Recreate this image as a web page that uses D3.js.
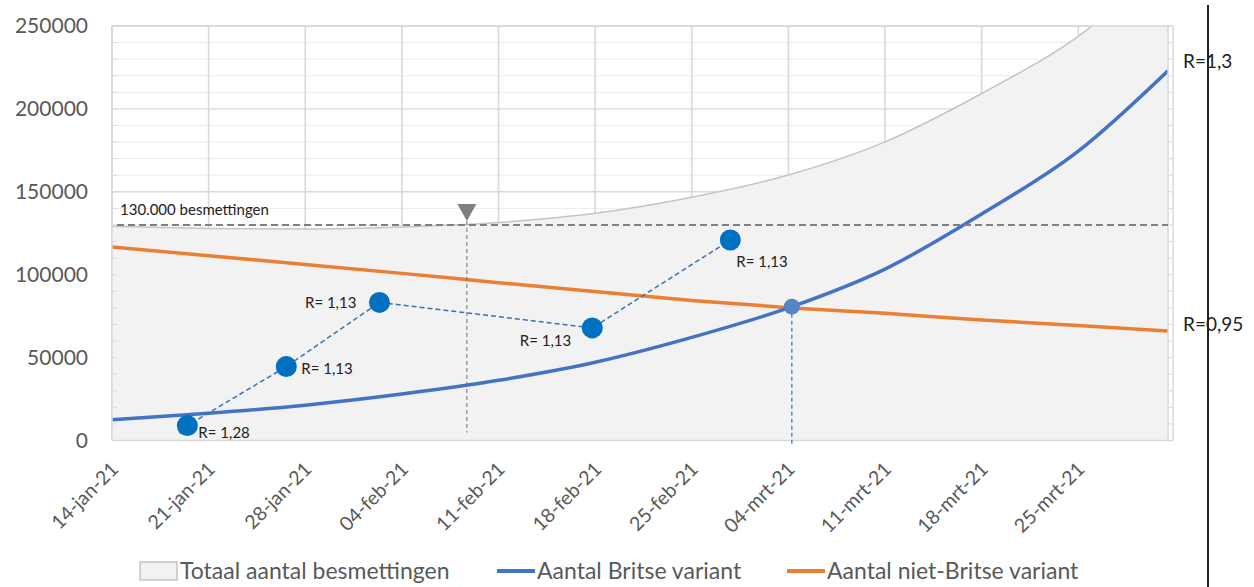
<!DOCTYPE html>
<html><head><meta charset="utf-8">
<script src="https://cdn.jsdelivr.net/npm/d3@7"></script>
<style>body{margin:0;background:#fff;} svg{display:block;font-family:Lato,"Open Sans",sans-serif;}</style>
</head><body><svg id="chart" width="1254" height="587"></svg>
<script>
// ---- data ----
const dates = ["2021-01-14","2021-01-21","2021-01-28","2021-02-04","2021-02-11","2021-02-18","2021-02-25","2021-03-04","2021-03-11","2021-03-18","2021-03-25","2021-03-31T12:00"];
const britse     = [12500, 16400, 21300, 28000, 36300, 47200, 62200, 80000, 103400, 136600, 174500, 223000];
const nietBritse = [116700,111500,106200,100800, 95200, 89800, 84500, 80100, 76700, 72700, 69300, 66000];
const totaal     = [129200,127900,127500,128800,131500,137000,146700,160100,180100,209300,243800,289000];

const xTickDates  = ["2021-01-14","2021-01-21","2021-01-28","2021-02-04","2021-02-11","2021-02-18","2021-02-25","2021-03-04","2021-03-11","2021-03-18","2021-03-25"];
const xTickLabels = ["14-jan-21","21-jan-21","28-jan-21","04-feb-21","11-feb-21","18-feb-21","25-feb-21","04-mrt-21","11-mrt-21","18-mrt-21","25-mrt-21"];
const yTicks = [0, 50000, 100000, 150000, 200000, 250000];

const rDotDates  = ["2021-01-19T11:00","2021-01-26T15:00","2021-02-02T09:00","2021-02-17T19:00","2021-02-27T19:00"];
const rDotValues = [9000, 44600, 83300, 67900, 120900];
const rDotLabels = ["R= 1,28","R= 1,13","R= 1,13","R= 1,13","R= 1,13"];

const crossDate = "2021-03-04T06:00";
const crossValue = 80700;
const thresholdValue = 130000;
const thresholdLabel = "130.000 besmettingen";
const thresholdDate = "2021-02-08T17:00";
const endLabels = ["R=1,3", "R=0,95"];
const legendLabels = ["Totaal aantal besmettingen", "Aantal Britse variant", "Aantal niet-Britse variant"];

// ---- layout ----
const parse = s => new Date(s);
const L = 112, R = 1168, T = 26, B = 440.5;
const svg = d3.select("#chart");
const x = d3.scaleTime().domain([parse("2021-01-14"), parse("2021-03-31T12:00")]).range([L, R]);
const y = d3.scaleLinear().domain([0, 250000]).range([B, T]);

const rows = dates.map((d, i) => ({d: parse(d), b: britse[i], n: nietBritse[i], t: totaal[i]}));

svg.append("rect").attr("width", 1254).attr("height", 587).attr("fill", "#fff");
svg.append("defs").append("clipPath").attr("id", "clip")
  .append("rect").attr("x", L).attr("y", T).attr("width", R - L).attr("height", B - T);

// grid
const grid = svg.append("g");
grid.selectAll("line.minor").data(d3.range(10000, 250001, 10000)).join("line")
  .attr("x1", L).attr("x2", R).attr("y1", d => y(d)).attr("y2", d => y(d))
  .attr("stroke", d => d % 50000 === 0 ? "#d9d9d9" : "#ececec")
  .attr("stroke-width", d => d % 50000 === 0 ? 1.4 : 1);
grid.selectAll("line.v").data(xTickDates).join("line")
  .attr("x1", d => x(parse(d))).attr("x2", d => x(parse(d)))
  .attr("y1", T).attr("y2", B).attr("stroke", "#d9d9d9").attr("stroke-width", 1.6);

// total area
const plot = svg.append("g").attr("clip-path", "url(#clip)");
plot.append("path").datum(rows)
  .attr("d", d3.area().x(d => x(d.d)).y0(y(0)).y1(d => y(d.t)).curve(d3.curveMonotoneX))
  .attr("fill", "#f2f2f2");
plot.append("path").datum(rows)
  .attr("d", d3.line().x(d => x(d.d)).y(d => y(d.t)).curve(d3.curveMonotoneX))
  .attr("fill", "none").attr("stroke", "#c4c4c4").attr("stroke-width", 1.5);

// frame & axis strips
const frame = svg.append("g").attr("stroke", "#d9d9d9").attr("fill", "none");
frame.append("line").attr("x1", L).attr("x2", R + 5).attr("y1", B).attr("y2", B).attr("stroke-width", 1.5);
frame.append("line").attr("x1", L).attr("x2", R + 5).attr("y1", T).attr("y2", T).attr("stroke-width", 1.5);
frame.append("line").attr("x1", L).attr("x2", L).attr("y1", T).attr("y2", B).attr("stroke-width", 1.5);
frame.append("line").attr("x1", R).attr("x2", R).attr("y1", T).attr("y2", B).attr("stroke-width", 1.5);
frame.append("line").attr("x1", R + 5).attr("x2", R + 5).attr("y1", T).attr("y2", B).attr("stroke-width", 1.5);
frame.selectAll("line.tl").data(d3.range(0, 250001, 10000)).join("line")
  .attr("x1", L).attr("x2", L + 5).attr("y1", d => y(d)).attr("y2", d => y(d)).attr("stroke-width", 1);
frame.selectAll("line.tr").data(d3.range(0, 250001, 10000)).join("line")
  .attr("x1", R).attr("x2", R + 5).attr("y1", d => y(d)).attr("y2", d => y(d)).attr("stroke-width", 1);

// threshold line
svg.append("line").attr("x1", L + 5).attr("x2", R).attr("y1", y(thresholdValue)).attr("y2", y(thresholdValue))
  .attr("stroke", "#7f7f7f").attr("stroke-width", 2).attr("stroke-dasharray", "7,4");
svg.append("text").attr("x", L + 8).attr("y", y(thresholdValue) - 10).attr("font-size", 15).attr("fill", "#222")
  .text(thresholdLabel);
const tx = x(parse(thresholdDate));
svg.append("line").attr("x1", tx).attr("x2", tx).attr("y1", y(thresholdValue) - 4).attr("y2", B - 8)
  .attr("stroke", "#6f6f6f").attr("stroke-width", 1).attr("stroke-dasharray", "4,3");
svg.append("path").attr("d", `M${tx - 9.5},${y(thresholdValue) - 21} L${tx + 9.5},${y(thresholdValue) - 21} L${tx},${y(thresholdValue) - 4} Z`)
  .attr("fill", "#7f7f7f");

// series lines
plot.append("path").datum(rows)
  .attr("d", d3.line().x(d => x(d.d)).y(d => y(d.n)).curve(d3.curveMonotoneX))
  .attr("fill", "none").attr("stroke", "#ed7d31").attr("stroke-width", 3.5);
plot.append("path").datum(rows)
  .attr("d", d3.line().x(d => x(d.d)).y(d => y(d.b)).curve(d3.curveMonotoneX))
  .attr("fill", "none").attr("stroke", "#4472c4").attr("stroke-width", 3.5);

// R dots
const dots = rDotDates.map((d, i) => ({x: x(parse(d)), y: y(rDotValues[i]), label: rDotLabels[i]}));
svg.append("path")
  .attr("d", `M${dots[0].x - 8},${dots[0].y + 8}` + dots.map(p => `L${p.x},${p.y}`).join(""))
  .attr("fill", "none").attr("stroke", "#3a73b5").attr("stroke-width", 1.5).attr("stroke-dasharray", "5,3");
svg.selectAll("circle.r").data(dots).join("circle")
  .attr("cx", d => d.x).attr("cy", d => d.y).attr("r", 10.5).attr("fill", "#0070c0");
const labelOffsets = [[11, 12, "start"], [15, 7, "start"], [-23, 6, "end"], [-21, 18, "end"], [6, 27, "start"]];
svg.selectAll("text.r").data(dots).join("text")
  .attr("x", (d, i) => d.x + labelOffsets[i][0]).attr("y", (d, i) => d.y + labelOffsets[i][1])
  .attr("text-anchor", (d, i) => labelOffsets[i][2])
  .attr("font-size", 15).attr("fill", "#222").text(d => d.label);

// crossing point
const cx = x(parse(crossDate)), cy = y(crossValue);
svg.append("line").attr("x1", cx).attr("x2", cx).attr("y1", cy).attr("y2", B + 6)
  .attr("stroke", "#2e75b6").attr("stroke-width", 1.2).attr("stroke-dasharray", "4,3");
svg.append("circle").attr("cx", cx).attr("cy", cy).attr("r", 8).attr("fill", "#5585c5");

// end labels
svg.append("text").attr("x", 1183).attr("y", y(britse[britse.length - 1]) - 3).attr("font-size", 19).attr("fill", "#222").text(endLabels[0]);
svg.append("text").attr("x", 1183).attr("y", y(nietBritse[nietBritse.length - 1])).attr("font-size", 19).attr("fill", "#222").text(endLabels[1]);

// axes
const yAxis = d3.axisLeft(y).tickValues(yTicks).tickSize(0).tickPadding(0).tickFormat(d => String(d));
const gy = svg.append("g").attr("transform", "translate(88,0)").call(yAxis);
gy.select(".domain").remove();
gy.selectAll("text").attr("font-size", 21).attr("fill", "#595959").attr("font-family", "Lato, 'Open Sans', sans-serif");

const xAxis = d3.axisBottom(x).tickValues(xTickDates.map(parse)).tickSize(0)
  .tickFormat((d, i) => xTickLabels[i]);
const gx = svg.append("g").attr("transform", `translate(0,${B})`).call(xAxis);
gx.select(".domain").remove();
gx.selectAll("text").attr("font-size", 19.5).attr("fill", "#595959").attr("font-family", "Lato, 'Open Sans', sans-serif")
  .attr("text-anchor", "end").attr("dy", 0).attr("y", 0)
  .attr("transform", "translate(7,30) rotate(-45)");

// legend
const lg = svg.append("g").attr("font-size", 23).attr("fill", "#595959");
lg.append("rect").attr("x", 140).attr("y", 562).attr("width", 37).attr("height", 18).attr("fill", "#f2f2f2").attr("stroke", "#c4c4c4").attr("stroke-width", 1.5);
lg.append("text").attr("x", 180).attr("y", 579).text(legendLabels[0]);
lg.append("line").attr("x1", 497).attr("x2", 535).attr("y1", 571).attr("y2", 571).attr("stroke", "#4472c4").attr("stroke-width", 4);
lg.append("text").attr("x", 537).attr("y", 579).text(legendLabels[1]);
lg.append("line").attr("x1", 787).attr("x2", 825).attr("y1", 571).attr("y2", 571).attr("stroke", "#ed7d31").attr("stroke-width", 4);
lg.append("text").attr("x", 827).attr("y", 579).text(legendLabels[2]);

// black vertical rule on the right
svg.append("line").attr("x1", 1208).attr("x2", 1208).attr("y1", 5).attr("y2", 587).attr("stroke", "#222").attr("stroke-width", 2);
</script></body></html>
